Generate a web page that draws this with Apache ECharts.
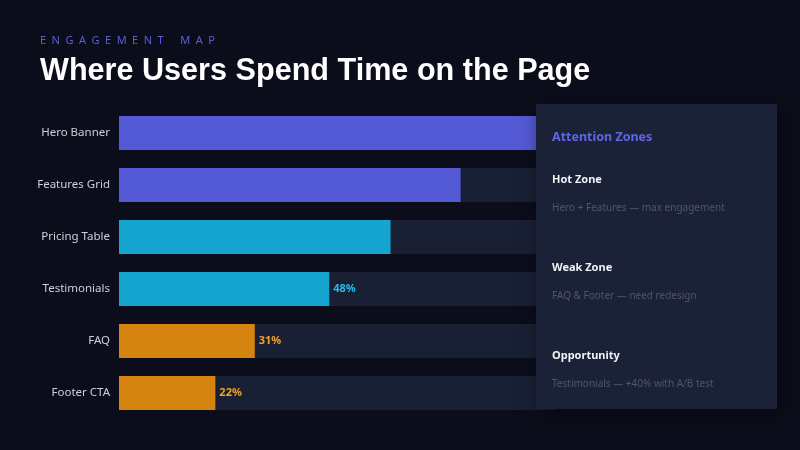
<!DOCTYPE html>
<html>
<head>
<meta charset="utf-8">
<script src="https://cdn.jsdelivr.net/npm/echarts@6/dist/echarts.min.js"></script>
<style>
  html, body { margin: 0; padding: 0; background: #0b0d1b; }
  #main { width: 800px; height: 450px; }
</style>
</head>
<body>
<div id="main"></div>
<script>
const categories = ['Hero Banner', 'Features Grid', 'Pricing Table', 'Testimonials', 'FAQ', 'Footer CTA'];
const values = [97, 78, 62, 48, 31, 22];
const barColors = ['#5459d6', '#5459d6', '#16a4d0', '#16a4d0', '#d5840f', '#d5840f'];
const labelColors = ['#6b70ee', '#6b70ee', '#2bbbe6', '#2bbbe6', '#f0a22a', '#f0a22a'];
// the reference only shows value labels on the shorter bars
const showLabel = [false, false, false, true, true, true];

const panelTitle = 'Attention Zones';
const zoneNames = ['Hot Zone', 'Weak Zone', 'Opportunity'];
const zoneNotes = ['Hero + Features — max engagement', 'FAQ & Footer — need redesign', 'Testimonials — +40% with A/B test'];

var chartDom = document.getElementById('main');
var myChart = echarts.init(chartDom);
var option;

const panelTexts = [{
  type: 'text', x: 552, y: 137, z: 101,
  style: { text: panelTitle, fill: '#5f66e6', font: 'bold 12.5px "Noto Sans"', verticalAlign: 'middle' }
}];
zoneNames.forEach(function (name, i) {
  panelTexts.push({
    type: 'text', x: 552, y: 180 + i * 88, z: 101,
    style: { text: name, fill: '#f1f3f8', font: 'bold 11px "Noto Sans"', verticalAlign: 'middle' }
  });
  panelTexts.push({
    type: 'text', x: 552, y: 208 + i * 88, z: 101,
    style: { text: zoneNotes[i], fill: '#4f566b', font: '10px "Noto Sans"', verticalAlign: 'middle' }
  });
});

option = {
  backgroundColor: '#0b0d1b',
  textStyle: { fontFamily: 'Noto Sans' },
  title: [
    {
      text: 'E\u2002N\u2002G\u2002A\u2002G\u2002E\u2002M\u2002E\u2002N\u2002T\u2003\u2002M\u2002A\u2002P',
      left: 40, top: 35, padding: 0,
      textStyle: { color: '#5a5fd8', fontSize: 11, fontWeight: 'normal', fontFamily: 'Noto Sans' }
    },
    {
      text: 'Where Users Spend Time on the Page',
      left: 40, top: 56, padding: 0,
      textStyle: { color: '#ffffff', fontSize: 30.6, fontWeight: 'bold', fontFamily: 'Liberation Sans' }
    }
  ],
  grid: { left: 119, right: 243, top: 107, bottom: 31 },
  xAxis: {
    type: 'value', min: 0, max: 100,
    show: false
  },
  yAxis: {
    type: 'category',
    data: categories,
    inverse: true,
    axisLine: { show: false },
    axisTick: { show: false },
    axisLabel: { color: '#cdd0dc', fontSize: 11.5, margin: 9 }
  },
  series: [
    {
      type: 'bar',
      barWidth: 34,
      showBackground: true,
      backgroundStyle: { color: '#1a2034' },
      data: values.map(function (v, i) {
        return {
          value: v,
          itemStyle: { color: barColors[i] },
          label: { show: showLabel[i], color: labelColors[i] }
        };
      }),
      label: {
        show: true,
        position: 'right',
        distance: 4,
        fontSize: 11,
        fontWeight: 'bold',
        formatter: '{c}%'
      }
    }
  ],
  graphic: [
    {
      type: 'rect', z: 100,
      shape: { x: 536, y: 104, width: 241, height: 305 },
      style: { fill: '#1b2136', shadowBlur: 16, shadowColor: 'rgba(0,0,0,0.5)', shadowOffsetX: 3, shadowOffsetY: 3 }
    }
  ].concat(panelTexts)
};

option && myChart.setOption(option);
</script>
</body>
</html>
